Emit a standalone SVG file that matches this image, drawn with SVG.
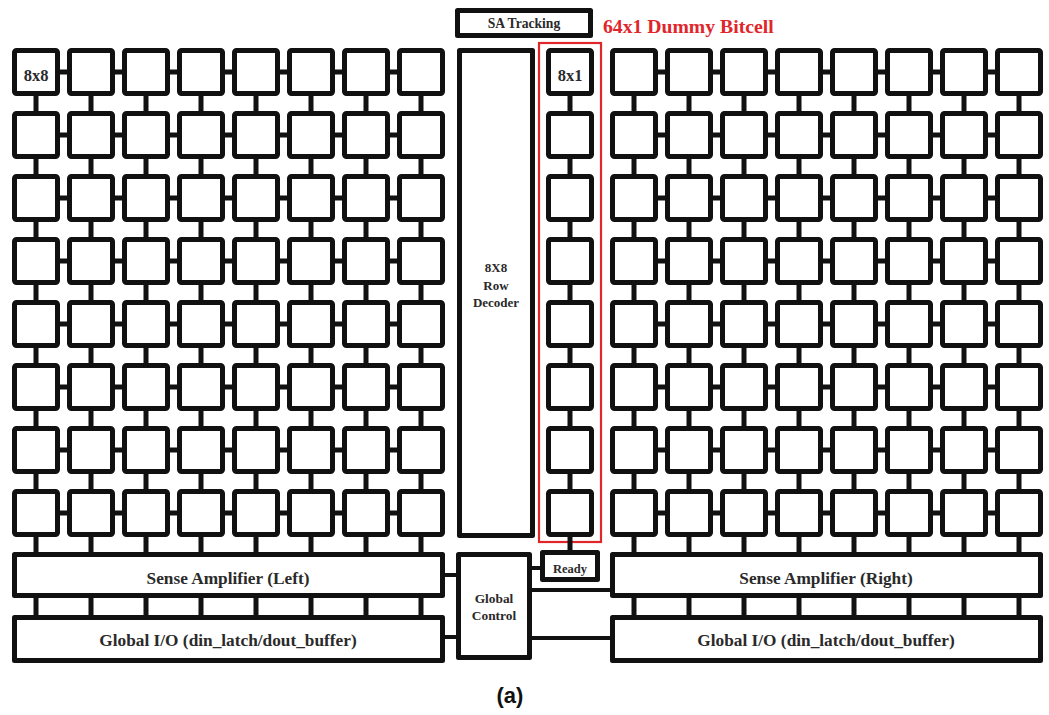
<svg xmlns="http://www.w3.org/2000/svg" xmlns:xlink="http://www.w3.org/1999/xlink" width="1049" height="715" viewBox="0 0 1049 715">
<style>
.blk{fill:#fff;stroke:#111;stroke-width:5;stroke-linejoin:round}
.con{fill:none;stroke:#111;stroke-width:5}
.con4{fill:none;stroke:#111;stroke-width:4}
.t{font-family:"Liberation Serif","Times New Roman",serif;font-weight:bold;fill:#2a2a2a;text-anchor:middle}
.red{fill:none;stroke:#e0262b;stroke-width:2.2}
</style>
<defs>
<rect id="cell" width="43" height="43" rx="2" class="blk"/>
<path id="hst" d="M58 0h11M113 0h11M168 0h11M223 0h11M278 0h11M333 0h11M388 0h11"/>
<path id="vst" d="M36 0v18M91 0v18M146 0v18M201 0v18M256 0v18M311 0v18M366 0v18M421 0v18"/>
<path id="vst2" d="M36 0v21M91 0v21M146 0v21M201 0v21M256 0v21M311 0v21M366 0v21M421 0v21"/>
</defs>
<rect width="1049" height="715" fill="#fff"/>
<g id="connectors">
<g class="con">
<use href="#hst" y="72"/><use href="#hst" y="135"/><use href="#hst" y="198"/><use href="#hst" y="261"/><use href="#hst" y="324"/><use href="#hst" y="387"/><use href="#hst" y="450"/><use href="#hst" y="513"/>
<use href="#hst" x="598" y="72"/><use href="#hst" x="598" y="135"/><use href="#hst" x="598" y="198"/><use href="#hst" x="598" y="261"/><use href="#hst" x="598" y="324"/><use href="#hst" x="598" y="387"/><use href="#hst" x="598" y="450"/><use href="#hst" x="598" y="513"/>
<use href="#vst" y="95"/><use href="#vst" y="158"/><use href="#vst" y="221"/><use href="#vst" y="284"/><use href="#vst" y="347"/><use href="#vst" y="410"/><use href="#vst" y="473"/><use href="#vst" y="535"/><use href="#vst2" y="596"/>
<use href="#vst" x="598" y="95"/><use href="#vst" x="598" y="158"/><use href="#vst" x="598" y="221"/><use href="#vst" x="598" y="284"/><use href="#vst" x="598" y="347"/><use href="#vst" x="598" y="410"/><use href="#vst" x="598" y="473"/><use href="#vst" x="598" y="535"/><use href="#vst2" x="598" y="596"/>
<path d="M570 95v18M570 158v18M570 221v18M570 284v18M570 347v18M570 410v18M570 473v18"/>
</g>
<path class="con4" d="M443 575h16M443 637h16M530 568h14M530 590h83M530 638h83"/>
</g>
<g id="dummy-frame"><rect class="red" x="539" y="43" width="62" height="499"/></g>
<path class="con" d="M570 535v19"/>
<g id="sa-tracking"><rect class="blk" x="457.5" y="10.5" width="133" height="25"/><text class="t" x="524" y="27.5" font-size="13.6">SA Tracking</text></g>
<g id="dummy-label"><text x="603" y="33" font-family="Liberation Serif, Times New Roman, serif" font-weight="bold" font-size="19.7" fill="#e0262b">64x1 Dummy Bitcell</text></g>
<g id="row-decoder"><rect class="blk" x="459.5" y="50.5" width="73" height="485"/><text class="t" font-size="13" x="496" y="271.5">8X8</text><text class="t" font-size="13" x="496" y="289.5">Row</text><text class="t" font-size="13" x="496" y="306.5">Decoder</text></g>
<g id="ready"><rect class="blk" x="542.5" y="552.5" width="55" height="27"/><text class="t" x="570" y="572.5" font-size="12.5">Ready</text></g>
<g id="global-control"><rect class="blk" x="458.5" y="554.5" width="71" height="103"/><text class="t" x="494" y="602.5" font-size="13.4">Global</text><text class="t" x="494" y="619.5" font-size="13.4">Control</text></g>
<g id="sa-left"><rect class="blk" x="14.5" y="554.5" width="428" height="41"/><text class="t" x="228" y="584" font-size="17.3">Sense Amplifier (Left)</text></g>
<g id="gio-left"><rect class="blk" x="14.5" y="617.5" width="428" height="43"/><text class="t" x="228" y="646" font-size="17.3">Global I/O (din_latch/dout_buffer)</text></g>
<g id="sa-right"><rect class="blk" x="612.5" y="554.5" width="428" height="41"/><text class="t" x="826" y="584" font-size="17.3">Sense Amplifier (Right)</text></g>
<g id="gio-right"><rect class="blk" x="612.5" y="617.5" width="428" height="43"/><text class="t" x="826" y="646" font-size="17.3">Global I/O (din_latch/dout_buffer)</text></g>
<g id="dummy-cells">
<g id="D1"><use href="#cell" x="548.5" y="50.5"/><text class="t" x="570" y="81" font-size="16.5">8x1</text></g>
<g id="D2"><use href="#cell" x="548.5" y="113.5"/></g>
<g id="D3"><use href="#cell" x="548.5" y="176.5"/></g>
<g id="D4"><use href="#cell" x="548.5" y="239.5"/></g>
<g id="D5"><use href="#cell" x="548.5" y="302.5"/></g>
<g id="D6"><use href="#cell" x="548.5" y="365.5"/></g>
<g id="D7"><use href="#cell" x="548.5" y="428.5"/></g>
<g id="D8"><use href="#cell" x="548.5" y="491.5"/></g>
</g>
<g id="left-array">
<g id="L1-1"><use href="#cell" x="14.5" y="50.5"/><text class="t" x="36" y="81" font-size="16.5">8x8</text></g>
<g id="L1-2"><use href="#cell" x="69.5" y="50.5"/></g><g id="L1-3"><use href="#cell" x="124.5" y="50.5"/></g><g id="L1-4"><use href="#cell" x="179.5" y="50.5"/></g><g id="L1-5"><use href="#cell" x="234.5" y="50.5"/></g><g id="L1-6"><use href="#cell" x="289.5" y="50.5"/></g><g id="L1-7"><use href="#cell" x="344.5" y="50.5"/></g><g id="L1-8"><use href="#cell" x="399.5" y="50.5"/></g>
<g id="L2-1"><use href="#cell" x="14.5" y="113.5"/></g><g id="L2-2"><use href="#cell" x="69.5" y="113.5"/></g><g id="L2-3"><use href="#cell" x="124.5" y="113.5"/></g><g id="L2-4"><use href="#cell" x="179.5" y="113.5"/></g><g id="L2-5"><use href="#cell" x="234.5" y="113.5"/></g><g id="L2-6"><use href="#cell" x="289.5" y="113.5"/></g><g id="L2-7"><use href="#cell" x="344.5" y="113.5"/></g><g id="L2-8"><use href="#cell" x="399.5" y="113.5"/></g>
<g id="L3-1"><use href="#cell" x="14.5" y="176.5"/></g><g id="L3-2"><use href="#cell" x="69.5" y="176.5"/></g><g id="L3-3"><use href="#cell" x="124.5" y="176.5"/></g><g id="L3-4"><use href="#cell" x="179.5" y="176.5"/></g><g id="L3-5"><use href="#cell" x="234.5" y="176.5"/></g><g id="L3-6"><use href="#cell" x="289.5" y="176.5"/></g><g id="L3-7"><use href="#cell" x="344.5" y="176.5"/></g><g id="L3-8"><use href="#cell" x="399.5" y="176.5"/></g>
<g id="L4-1"><use href="#cell" x="14.5" y="239.5"/></g><g id="L4-2"><use href="#cell" x="69.5" y="239.5"/></g><g id="L4-3"><use href="#cell" x="124.5" y="239.5"/></g><g id="L4-4"><use href="#cell" x="179.5" y="239.5"/></g><g id="L4-5"><use href="#cell" x="234.5" y="239.5"/></g><g id="L4-6"><use href="#cell" x="289.5" y="239.5"/></g><g id="L4-7"><use href="#cell" x="344.5" y="239.5"/></g><g id="L4-8"><use href="#cell" x="399.5" y="239.5"/></g>
<g id="L5-1"><use href="#cell" x="14.5" y="302.5"/></g><g id="L5-2"><use href="#cell" x="69.5" y="302.5"/></g><g id="L5-3"><use href="#cell" x="124.5" y="302.5"/></g><g id="L5-4"><use href="#cell" x="179.5" y="302.5"/></g><g id="L5-5"><use href="#cell" x="234.5" y="302.5"/></g><g id="L5-6"><use href="#cell" x="289.5" y="302.5"/></g><g id="L5-7"><use href="#cell" x="344.5" y="302.5"/></g><g id="L5-8"><use href="#cell" x="399.5" y="302.5"/></g>
<g id="L6-1"><use href="#cell" x="14.5" y="365.5"/></g><g id="L6-2"><use href="#cell" x="69.5" y="365.5"/></g><g id="L6-3"><use href="#cell" x="124.5" y="365.5"/></g><g id="L6-4"><use href="#cell" x="179.5" y="365.5"/></g><g id="L6-5"><use href="#cell" x="234.5" y="365.5"/></g><g id="L6-6"><use href="#cell" x="289.5" y="365.5"/></g><g id="L6-7"><use href="#cell" x="344.5" y="365.5"/></g><g id="L6-8"><use href="#cell" x="399.5" y="365.5"/></g>
<g id="L7-1"><use href="#cell" x="14.5" y="428.5"/></g><g id="L7-2"><use href="#cell" x="69.5" y="428.5"/></g><g id="L7-3"><use href="#cell" x="124.5" y="428.5"/></g><g id="L7-4"><use href="#cell" x="179.5" y="428.5"/></g><g id="L7-5"><use href="#cell" x="234.5" y="428.5"/></g><g id="L7-6"><use href="#cell" x="289.5" y="428.5"/></g><g id="L7-7"><use href="#cell" x="344.5" y="428.5"/></g><g id="L7-8"><use href="#cell" x="399.5" y="428.5"/></g>
<g id="L8-1"><use href="#cell" x="14.5" y="491.5"/></g><g id="L8-2"><use href="#cell" x="69.5" y="491.5"/></g><g id="L8-3"><use href="#cell" x="124.5" y="491.5"/></g><g id="L8-4"><use href="#cell" x="179.5" y="491.5"/></g><g id="L8-5"><use href="#cell" x="234.5" y="491.5"/></g><g id="L8-6"><use href="#cell" x="289.5" y="491.5"/></g><g id="L8-7"><use href="#cell" x="344.5" y="491.5"/></g><g id="L8-8"><use href="#cell" x="399.5" y="491.5"/></g>
</g>
<g id="right-array">
<g id="R1-1"><use href="#cell" x="612.5" y="50.5"/></g><g id="R1-2"><use href="#cell" x="667.5" y="50.5"/></g><g id="R1-3"><use href="#cell" x="722.5" y="50.5"/></g><g id="R1-4"><use href="#cell" x="777.5" y="50.5"/></g><g id="R1-5"><use href="#cell" x="832.5" y="50.5"/></g><g id="R1-6"><use href="#cell" x="887.5" y="50.5"/></g><g id="R1-7"><use href="#cell" x="942.5" y="50.5"/></g><g id="R1-8"><use href="#cell" x="997.5" y="50.5"/></g>
<g id="R2-1"><use href="#cell" x="612.5" y="113.5"/></g><g id="R2-2"><use href="#cell" x="667.5" y="113.5"/></g><g id="R2-3"><use href="#cell" x="722.5" y="113.5"/></g><g id="R2-4"><use href="#cell" x="777.5" y="113.5"/></g><g id="R2-5"><use href="#cell" x="832.5" y="113.5"/></g><g id="R2-6"><use href="#cell" x="887.5" y="113.5"/></g><g id="R2-7"><use href="#cell" x="942.5" y="113.5"/></g><g id="R2-8"><use href="#cell" x="997.5" y="113.5"/></g>
<g id="R3-1"><use href="#cell" x="612.5" y="176.5"/></g><g id="R3-2"><use href="#cell" x="667.5" y="176.5"/></g><g id="R3-3"><use href="#cell" x="722.5" y="176.5"/></g><g id="R3-4"><use href="#cell" x="777.5" y="176.5"/></g><g id="R3-5"><use href="#cell" x="832.5" y="176.5"/></g><g id="R3-6"><use href="#cell" x="887.5" y="176.5"/></g><g id="R3-7"><use href="#cell" x="942.5" y="176.5"/></g><g id="R3-8"><use href="#cell" x="997.5" y="176.5"/></g>
<g id="R4-1"><use href="#cell" x="612.5" y="239.5"/></g><g id="R4-2"><use href="#cell" x="667.5" y="239.5"/></g><g id="R4-3"><use href="#cell" x="722.5" y="239.5"/></g><g id="R4-4"><use href="#cell" x="777.5" y="239.5"/></g><g id="R4-5"><use href="#cell" x="832.5" y="239.5"/></g><g id="R4-6"><use href="#cell" x="887.5" y="239.5"/></g><g id="R4-7"><use href="#cell" x="942.5" y="239.5"/></g><g id="R4-8"><use href="#cell" x="997.5" y="239.5"/></g>
<g id="R5-1"><use href="#cell" x="612.5" y="302.5"/></g><g id="R5-2"><use href="#cell" x="667.5" y="302.5"/></g><g id="R5-3"><use href="#cell" x="722.5" y="302.5"/></g><g id="R5-4"><use href="#cell" x="777.5" y="302.5"/></g><g id="R5-5"><use href="#cell" x="832.5" y="302.5"/></g><g id="R5-6"><use href="#cell" x="887.5" y="302.5"/></g><g id="R5-7"><use href="#cell" x="942.5" y="302.5"/></g><g id="R5-8"><use href="#cell" x="997.5" y="302.5"/></g>
<g id="R6-1"><use href="#cell" x="612.5" y="365.5"/></g><g id="R6-2"><use href="#cell" x="667.5" y="365.5"/></g><g id="R6-3"><use href="#cell" x="722.5" y="365.5"/></g><g id="R6-4"><use href="#cell" x="777.5" y="365.5"/></g><g id="R6-5"><use href="#cell" x="832.5" y="365.5"/></g><g id="R6-6"><use href="#cell" x="887.5" y="365.5"/></g><g id="R6-7"><use href="#cell" x="942.5" y="365.5"/></g><g id="R6-8"><use href="#cell" x="997.5" y="365.5"/></g>
<g id="R7-1"><use href="#cell" x="612.5" y="428.5"/></g><g id="R7-2"><use href="#cell" x="667.5" y="428.5"/></g><g id="R7-3"><use href="#cell" x="722.5" y="428.5"/></g><g id="R7-4"><use href="#cell" x="777.5" y="428.5"/></g><g id="R7-5"><use href="#cell" x="832.5" y="428.5"/></g><g id="R7-6"><use href="#cell" x="887.5" y="428.5"/></g><g id="R7-7"><use href="#cell" x="942.5" y="428.5"/></g><g id="R7-8"><use href="#cell" x="997.5" y="428.5"/></g>
<g id="R8-1"><use href="#cell" x="612.5" y="491.5"/></g><g id="R8-2"><use href="#cell" x="667.5" y="491.5"/></g><g id="R8-3"><use href="#cell" x="722.5" y="491.5"/></g><g id="R8-4"><use href="#cell" x="777.5" y="491.5"/></g><g id="R8-5"><use href="#cell" x="832.5" y="491.5"/></g><g id="R8-6"><use href="#cell" x="887.5" y="491.5"/></g><g id="R8-7"><use href="#cell" x="942.5" y="491.5"/></g><g id="R8-8"><use href="#cell" x="997.5" y="491.5"/></g>
</g>
<text x="510" y="703" font-family="Liberation Sans, Arial, sans-serif" font-weight="bold" font-size="22" fill="#111" text-anchor="middle">(a)</text>
</svg>
